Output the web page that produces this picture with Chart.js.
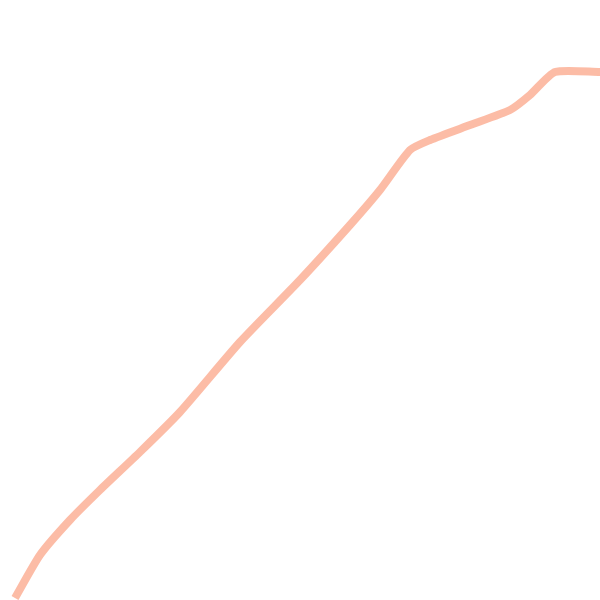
<!DOCTYPE html>
<html>
<head>
<meta charset="utf-8">
<script src="https://cdn.jsdelivr.net/npm/chart.js@4"></script>
<style>
  html, body { margin: 0; padding: 0; background: #fff; }
  #wrap { width: 600px; height: 600px; }
</style>
</head>
<body>
<div id="wrap"><canvas id="lineChart" width="600" height="600"></canvas></div>
<script>
// x positions and values (y axis runs up from bottom, 0..600)
const xValues = [15, 40, 70, 100, 140, 180, 240, 300, 350, 380, 410, 430, 470, 510, 530, 555, 600];
const yValues = [2, 45, 80, 110, 148, 188, 258, 320, 375, 410, 450, 460, 475, 490, 505, 528, 528];

const points = xValues.map((x, i) => ({ x: x, y: yValues[i] }));

const ctx = document.getElementById("lineChart").getContext("2d");
new Chart(ctx, {
  type: "line",
  data: {
    datasets: [{
      data: points,
      borderColor: "rgba(251, 176, 150, 0.85)",
      borderWidth: 8,
      pointRadius: 0,
      tension: 0.2,
      fill: false
    }]
  },
  options: {
    responsive: false,
    animation: false,
    layout: { padding: 0 },
    scales: {
      x: { type: "linear", min: 0, max: 600, display: false },
      y: { min: 0, max: 600, display: false }
    },
    plugins: {
      legend: { display: false },
      tooltip: { enabled: false }
    }
  }
});
</script>
</body>
</html>
